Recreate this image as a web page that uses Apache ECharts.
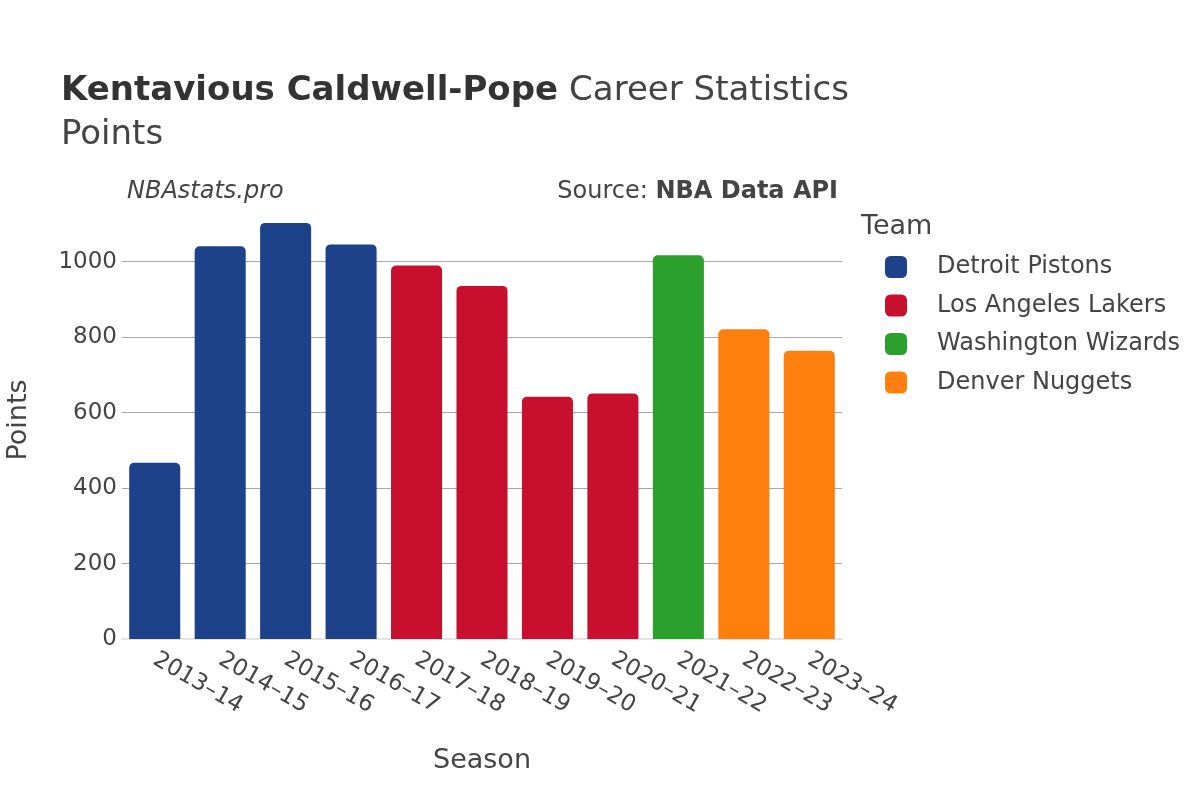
<!DOCTYPE html>
<html>
<head>
<meta charset="utf-8">
<script src="https://cdn.jsdelivr.net/npm/echarts@6/dist/echarts.min.js"></script>
<style>
html,body{margin:0;padding:0;background:#fff;}
#chart{width:1200px;height:800px;}
</style>
</head>
<body>
<div id="chart"></div>
<script>
const seasons = ["2013–14","2014–15","2015–16","2016–17","2017–18","2018–19","2019–20","2020–21","2021–22","2022–23","2023–24"];
const teams = ["Detroit Pistons","Los Angeles Lakers","Washington Wizards","Denver Nuggets"];
const teamOfSeason = ["Detroit Pistons","Detroit Pistons","Detroit Pistons","Detroit Pistons","Los Angeles Lakers","Los Angeles Lakers","Los Angeles Lakers","Los Angeles Lakers","Washington Wizards","Denver Nuggets","Denver Nuggets"];
const points = [467, 1041, 1103, 1046, 990, 936, 642, 651, 1017, 821, 764];
const teamColors = ["#1d428a","#c8102e","#2ca02c","#ff7f0e"];
const yTicks = [0, 200, 400, 600, 800, 1000];

const FONT = "DejaVu Sans";
const TXT = "#444";

const series = teams.map((t, i) => ({
  name: t,
  type: "bar",
  stack: "pts",
  barWidth: "78%",
  itemStyle: { color: teamColors[i], borderRadius: [5,5,0,0] },
  data: points.map((v, j) => teamOfSeason[j] === t ? v : "-")
}));

const chart = echarts.init(document.getElementById("chart"), null, {renderer: "canvas"});
chart.setOption({
  backgroundColor: "#fff",
  animation: false,
  textStyle: { fontFamily: FONT, color: TXT },
  title: {
    left: 56, top: 64,
    text: "{b|Kentavious Caldwell-Pope}{s| }{n|Career Statistics}\n{n|Points}",
    textStyle: {
      fontWeight: "normal",
      rich: {
        b: { fontFamily: FONT, fontSize: 34, fontWeight: "bold", color: "#333", lineHeight: 44 },
        s: { fontFamily: FONT, fontSize: 34, fontWeight: "normal", color: TXT, lineHeight: 44, width: 11 },
        n: { fontFamily: FONT, fontSize: 34, fontWeight: "normal", color: TXT, lineHeight: 44 }
      }
    }
  },
  graphic: [
    { type: "text", left: 127, top: 180, style: { text: "NBAstats.pro", font: "italic 24px 'DejaVu Sans'", fill: TXT } },
    { type: "text", right: 362, top: 180, style: { text: "{n|Source: }{b|NBA Data API}", fill: TXT,
      rich: { n: { fontFamily: FONT, fontSize: 24, color: TXT }, b: { fontFamily: FONT, fontSize: 24, fontWeight: "bold", color: "#333" } } } },
    { type: "text", left: 861, top: 213, style: { text: "Team", font: "27px 'DejaVu Sans'", fill: TXT } }
  ],
  legend: {
    orient: "vertical",
    left: 880, top: 250,
    itemWidth: 22, itemHeight: 22, itemGap: 14.5,
    icon: "roundRect",
    data: teams,
    textStyle: { fontFamily: FONT, fontSize: 24, color: TXT, lineHeight: 23, padding: [0,0,0,25] }
  },
  grid: { left: 122, right: 358, top: 201, bottom: 161, outerBoundsMode: "none" },
  xAxis: {
    type: "category",
    data: seasons,
    name: "Season",
    nameLocation: "middle",
    nameGap: 108,
    nameTextStyle: { fontFamily: FONT, fontSize: 27, color: TXT },
    axisLine: { show: true, lineStyle: { color: "#e5e5e5", width: 2 } },
    axisTick: { show: false },
    axisLabel: { rotate: -30, fontFamily: FONT, fontSize: 23, color: TXT, margin: 19, interval: 0 }
  },
  yAxis: {
    type: "value",
    min: 0, max: 1161, interval: 200,
    name: "Points",
    nameLocation: "middle",
    nameGap: 90,
    nameTextStyle: { fontFamily: FONT, fontSize: 27, color: TXT },
    axisLine: { show: false },
    axisTick: { show: false },
    axisLabel: { fontFamily: FONT, fontSize: 23, color: TXT, margin: 5, showMaxLabel: false,
      formatter: v => yTicks.includes(v) ? String(v) : "" },
    splitLine: { show: true, showMinLine: false, showMaxLine: false, lineStyle: { color: "#a8a8a8", width: 1 } }
  },
  series: series
});
</script>
</body>
</html>
